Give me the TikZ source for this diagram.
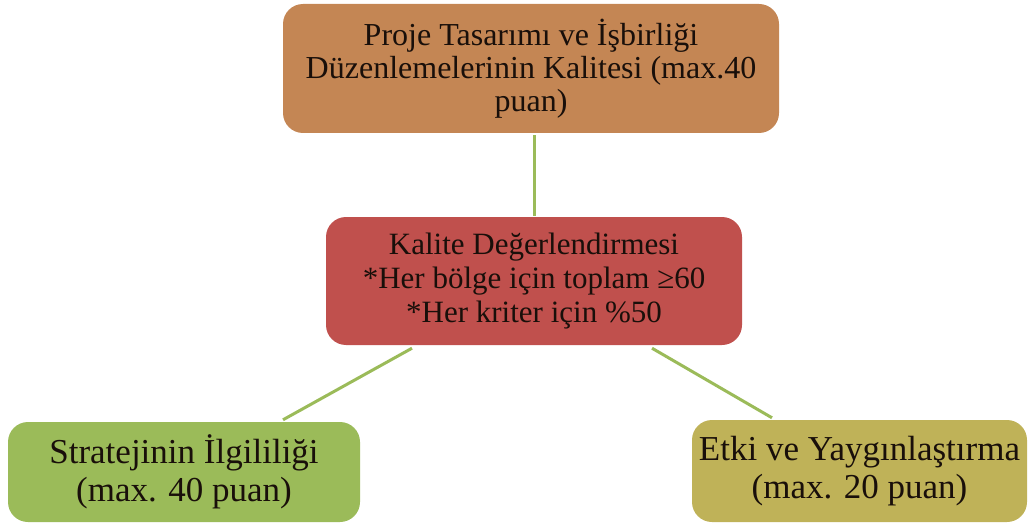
\documentclass[tikz,border=0pt]{standalone}
\usepackage{fontspec}
\setmainfont{Liberation Serif}
\definecolor{topc}{RGB}{196,134,84}
\definecolor{midc}{RGB}{192,80,77}
\definecolor{leftc}{RGB}{155,187,89}
\definecolor{rightc}{RGB}{191,178,88}
\definecolor{linec}{RGB}{155,187,89}
\definecolor{txtc}{RGB}{25,15,10}
\tikzset{
  boxnode/.style={rounded corners=20pt, inner sep=0pt, align=center, text=txtc, draw=none},
  conn/.style={draw=linec, line width=3pt}
}
\begin{document}
\begin{tikzpicture}[x=1pt,y=-1pt]
\useasboundingbox (0,0) rectangle (1031,524);
\node[boxnode, fill=topc, minimum width=496pt, minimum height=129pt,
      font=\fontsize{32}{33}\selectfont] (top) at (531,68.5)
  {Proje Tasarımı ve İşbirliği\\Düzenlemelerinin Kalitesi (max.40\\puan)};
\node[boxnode, fill=midc, minimum width=416pt, minimum height=128pt,
      font=\fontsize{31}{34}\selectfont] (mid) at (534,281)
  {Kalite Değerlendirmesi\\*Her bölge için toplam ≥60\\*Her kriter için \%50};
\node[boxnode, fill=leftc, minimum width=352pt, minimum height=100pt,
      font=\fontsize{35}{38}\selectfont] (bl) at (184,472)
  {Stratejinin İlgililiği\\(max. 40 puan)};
\node[boxnode, fill=rightc, minimum width=335pt, minimum height=102pt,
      font=\fontsize{35}{38}\selectfont] (br) at (859.5,471)
  {Etki ve Yaygınlaştırma\\(max. 20 puan)};
\draw[conn] ([yshift=-2pt]mid.north |- top.south) -- ([yshift=1pt]mid.north);
\draw[conn] ([xshift=-122pt,yshift=-3pt]mid.south) -- ([xshift=99pt,yshift=2pt]bl.north);
\draw[conn] ([xshift=118pt,yshift=-3pt]mid.south) -- ([xshift=-87.5pt,yshift=2pt]br.north);
\end{tikzpicture}
\end{document}
